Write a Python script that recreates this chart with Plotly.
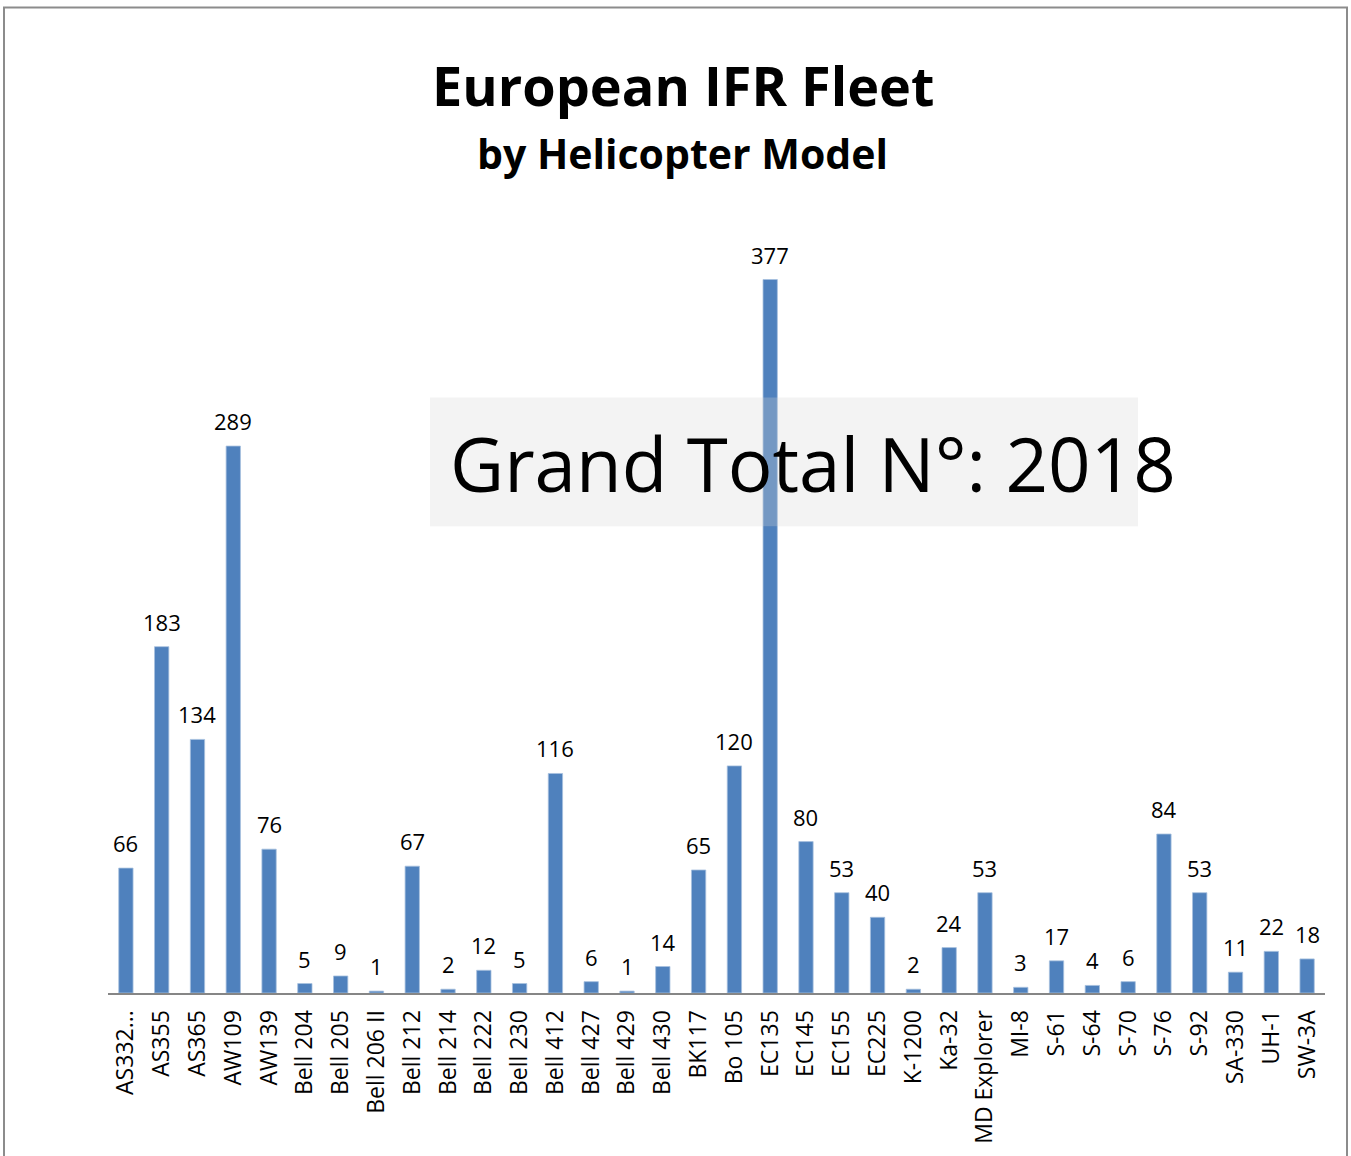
import plotly.graph_objects as go

models = ["AS332...", "AS355", "AS365", "AW109", "AW139", "Bell 204", "Bell 205", "Bell 206 II",
          "Bell 212", "Bell 214", "Bell 222", "Bell 230", "Bell 412", "Bell 427", "Bell 429",
          "Bell 430", "BK117", "Bo 105", "EC135", "EC145", "EC155", "EC225", "K-1200", "Ka-32",
          "MD Explorer", "MI-8", "S-61", "S-64", "S-70", "S-76", "S-92", "SA-330", "UH-1", "SW-3A"]
counts = [66, 183, 134, 289, 76, 5, 9, 1, 67, 2, 12, 5, 116, 6, 1, 14, 65, 120, 377, 80, 53, 40,
          2, 24, 53, 3, 17, 4, 6, 84, 53, 11, 22, 18]
title_main = "European IFR Fleet"
title_sub = "by Helicopter Model"
total_text = "Grand Total N°: 2018"

FONT = "Open Sans"
BAR = "#4F81BD"

W, H = 1351, 1156
L, R, T, B = 108, 26, 236, 161
PW, PH = W - L - R, H - T - B


def px_x(x):
    return (x - L) / PW


def px_y(y):
    return (H - B - y) / PH


fig = go.Figure()
fig.add_trace(go.Bar(x=models, y=counts, width=0.4,
                     marker=dict(color=BAR, line=dict(color="#A7C0DE", width=0.8)),
                     hoverinfo="x+y"))

for m, v in zip(models, counts):
    fig.add_annotation(x=m, y=v, text=str(v), showarrow=False, yanchor="bottom",
                       yshift=8, font=dict(family=FONT, size=22, color="black"))

# title
fig.add_annotation(xref="paper", yref="paper", x=px_x(683), xanchor="center", y=px_y(85), yanchor="middle",
                   text=f"<b>{title_main}</b>", showarrow=False,
                   font=dict(family=FONT, size=54, color="black"))
fig.add_annotation(xref="paper", yref="paper", x=px_x(682), xanchor="center", y=px_y(153), yanchor="middle",
                   text=f"<b>{title_sub}</b>", showarrow=False,
                   font=dict(family=FONT, size=41, color="black"))

# semi-transparent box with total
fig.add_shape(type="rect", xref="paper", yref="paper", layer="above",
              x0=px_x(430), x1=px_x(1138), y0=px_y(527), y1=px_y(398),
              fillcolor="rgba(213,213,213,0.28)", line=dict(width=0))
fig.add_annotation(xref="paper", yref="paper", x=px_x(448), xanchor="left",
                   y=px_y(464), yanchor="middle", text=total_text, showarrow=False,
                   font=dict(family=FONT, size=74.5, color="black"))

# outer border
fig.add_shape(type="rect", xref="paper", yref="paper", layer="above",
              x0=px_x(4), x1=px_x(1347), y0=px_y(1200), y1=px_y(7),
              line=dict(color="#8C8C8C", width=2), fillcolor="rgba(0,0,0,0)")

fig.update_layout(
    width=W, height=H,
    margin=dict(l=L, r=R, t=T, b=B),
    plot_bgcolor="white", paper_bgcolor="white",
    showlegend=False, bargap=0.6,
    font=dict(family=FONT, color="black"),
)
fig.update_xaxes(showline=True, linecolor="#868686", linewidth=2, tickangle=-90,
                 tickfont=dict(family=FONT, size=23, color="black"), ticks="",
                 showgrid=False, range=[-0.5, len(models) - 0.5], ticklabelstandoff=6)
fig.update_yaxes(visible=False, range=[0, 400], showgrid=False)

fig.write_html("out.html", config={"displayModeBar": False},
               post_script="document.body.style.margin='0px';")
